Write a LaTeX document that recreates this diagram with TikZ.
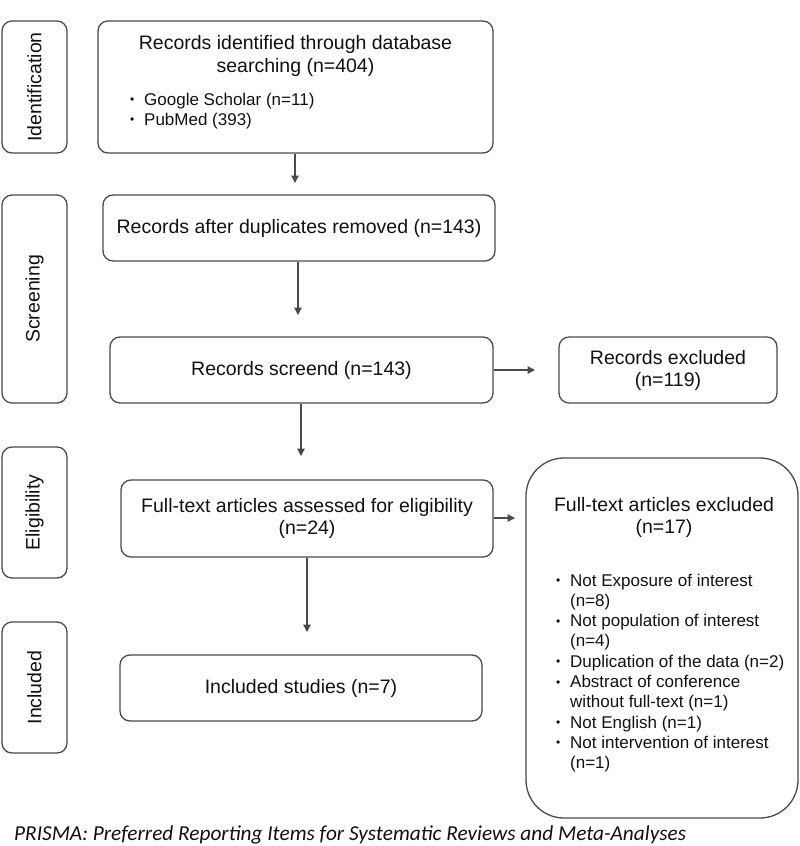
\documentclass[tikz,border=0pt]{standalone}
\usepackage{fontspec}
\setmainfont{Liberation Sans}
\newfontfamily\capfont{Carlito}
\usetikzlibrary{arrows.meta}
\definecolor{lc}{HTML}{4A4A4A}
\definecolor{tc}{HTML}{111111}
\newcommand\mybul{\makebox[14pt][l]{\raisebox{1.5pt}{\fontsize{12}{12}\selectfont\textbullet}}}
\begin{document}
\begin{tikzpicture}[x=1pt,y=-1pt,
  box/.style={draw=lc,line width=1.3pt,rounded corners=10pt,inner sep=0pt,text=tc,
    font=\fontsize{19.5}{22}\selectfont,align=center},
  stage/.style={box,rotate=90,minimum height=65pt,font=\fontsize{19.5}{22}\selectfont},
  big/.style={box,rounded corners=38pt},
  ttl/.style={inner sep=0pt,text=tc,font=\fontsize{19.5}{22}\selectfont,anchor=base},
  itm/.style={inner sep=0pt,text=tc,font=\fontsize{17}{20}\selectfont,anchor=base west},
  arr/.style={draw=lc,line width=1.3pt,-{Triangle[width=7.5pt,length=7.5pt]}}]
\fill[white] (0,0) rectangle (800,846);
\useasboundingbox (0,0) rectangle (800,846);

% stage labels
\node[stage,minimum width=132pt] (idl) at (34.5,87) {Identification};
\node[stage,minimum width=208pt] (scl) at (34.5,299) {Screening};
\node[stage,minimum width=131pt] (ell) at (34.5,512.5) {Eligibility};
\node[stage,minimum width=131pt] (inl) at (34.5,687.5) {Included};

% boxes
\node[box,minimum width=395pt,minimum height=132pt] (b1) at (295.5,87) {};
\node[ttl] (b1t1) at (295.5,49) {Records identified through database};
\node[ttl] (b1t2) at (295.5,72) {searching (n=404)};
\node[itm] (b1i1) at (130,105) {\mybul Google Scholar (n=11)};
\node[itm] (b1i2) at (130,125) {\mybul PubMed (393)};

\node[box,minimum width=392pt,minimum height=66pt] (b2) at (299,228) {Records after duplicates removed (n=143)};
\node[box,minimum width=383pt,minimum height=66pt] (b3) at (301.5,370) {Records screend (n=143)};
\node[box,minimum width=218pt,minimum height=66pt] (ex1) at (668,370) {Records excluded\\(n=119)};
\node[box,minimum width=372pt,minimum height=77pt] (b4) at (307,518.5) {Full-text articles assessed for eligibility\\(n=24)};
\node[box,minimum width=362pt,minimum height=66pt] (b5) at (301,688) {Included studies (n=7)};

\node[big,minimum width=272pt,minimum height=360pt] (ex2) at (662,638) {};
\node[ttl] (ex2t1) at (664,511) {Full-text articles excluded};
\node[ttl] (ex2t2) at (664,533) {(n=17)};
\node[itm] (e1) at (556,586) {\mybul Not Exposure of interest};
\node[itm] (e2) at (570,606.3) {(n=8)};
\node[itm] (e3) at (556,626.6) {\mybul Not population of interest};
\node[itm] (e4) at (570,646.9) {(n=4)};
\node[itm] (e5) at (556,667.2) {\mybul Duplication of the data (n=2)};
\node[itm] (e6) at (556,687.5) {\mybul Abstract of conference};
\node[itm] (e7) at (570,707.8) {without full-text (n=1)};
\node[itm] (e8) at (556,728.1) {\mybul Not English (n=1)};
\node[itm] (e9) at (556,748.4) {\mybul Not intervention of interest};
\node[itm] (e10) at (570,768.7) {(n=1)};

% arrow ends
\coordinate (t1) at (295,183);
\coordinate (t2) at (298,315);
\coordinate (t3) at (301,456);
\coordinate (t4) at (307,632);
\coordinate (t5) at (535,370);
\coordinate (t6) at (515,518);

\draw[arr] (b1.south -| t1) -- (t1);
\draw[arr] (b2.south -| t2) -- (t2);
\draw[arr] (b3.south -| t3) -- (t3);
\draw[arr] (b4.south -| t4) -- (t4);
\draw[arr] (b3.east |- t5) -- (t5);
\draw[arr] (b4.east |- t6) -- (t6);

% caption
\node[inner sep=0pt,anchor=base west,text=tc,font=\capfont\itshape\fontsize{21.3}{24}\selectfont] (cap) at (14,840)
  {PRISMA: Preferred Reporting Items for Systematic Reviews and Meta-Analyses};
\end{tikzpicture}
\end{document}
